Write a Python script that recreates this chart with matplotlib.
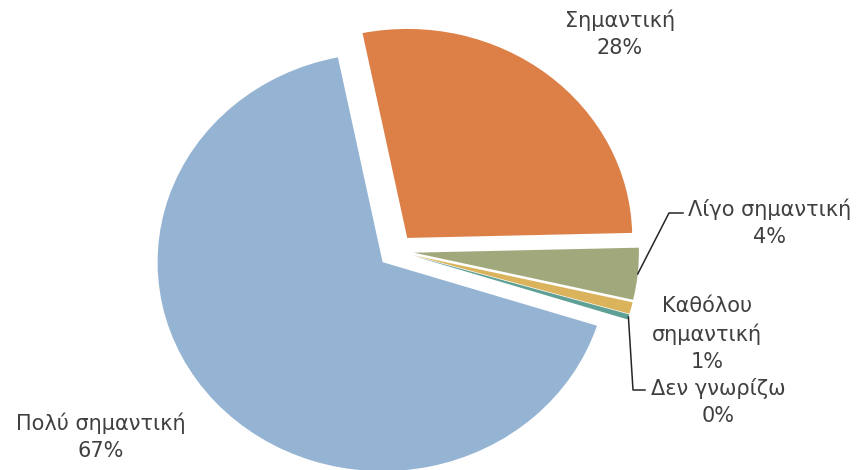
import numpy as np
import matplotlib.pyplot as plt

plt.rcParams['font.family'] = ['DejaVu Sans']

# data
labels = ['Πολύ σημαντική', 'Σημαντική', 'Λίγο σημαντική', 'Καθόλου\nσημαντική', 'Δεν γνωρίζω']
values = [66.9, 27.8, 4.0, 0.9, 0.4]
pct_text = ['67%', '28%', '4%', '1%', '0%']
colors = ['#95B4D3', '#DD8048', '#A1A97C', '#DAB35C', '#5FA096']

W, H = 859, 470
cx, cy = 396, 251   # pie centre (pixels)
rx, ry = 225, 209   # the original picture is a bit stretched horizontally

fig = plt.figure(figsize=(W / 100, H / 100), dpi=100)
ax = fig.add_axes([0, 0, 1, 1])
wedges, _ = ax.pie(values, colors=colors, startangle=342.3, counterclock=False,
                   explode=[0.08] * len(values), wedgeprops=dict(linewidth=0))
ax.set_aspect('auto')
ax.set_xlim(-cx / rx, (W - cx) / rx)
ax.set_ylim(-(H - cy) / ry, cy / ry)
ax.axis('off')


def px(x, y):
    # pixel position -> data position
    return ((x - cx) / rx, (cy - y) / ry)


# label block centres, in pixels
label_pos = [(101, 437), (620, 34), (770, 223), (707, 334), (718, 402)]
for i, (lab, p) in enumerate(zip(labels, pct_text)):
    ax.text(*px(*label_pos[i]), lab + '\n' + p, ha='center', va='center',
            fontsize=15, color='#404040', linespacing=1.42)

# leader lines (Λίγο σημαντική, Δεν γνωρίζω)
leaders = {2: [(669, 213), (683, 213)], 4: [(633, 390), (645, 390)]}
for i, pts in leaders.items():
    w = wedges[i]
    mid = np.deg2rad((w.theta1 + w.theta2) / 2)
    x0 = w.center[0] + w.r * np.cos(mid)
    y0 = w.center[1] + w.r * np.sin(mid)
    xs = [x0] + [px(*q)[0] for q in pts]
    ys = [y0] + [px(*q)[1] for q in pts]
    ax.plot(xs, ys, color='#262626', lw=1.1)

plt.savefig('out.png', dpi=100)
